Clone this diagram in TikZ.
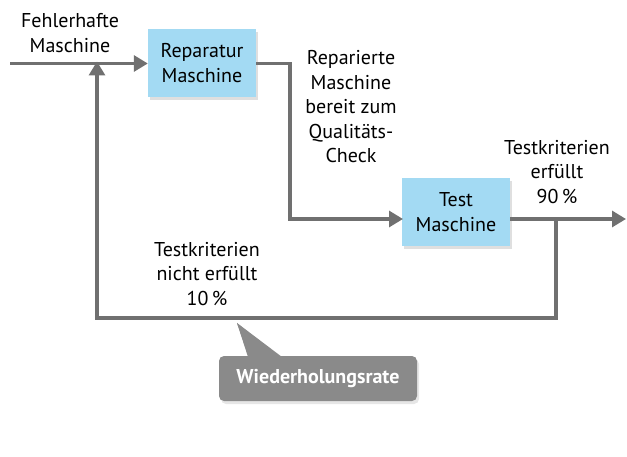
\documentclass[tikz,border=0pt]{standalone}
\usepackage{fontspec}
\setmainfont{PT Sans}
\usetikzlibrary{arrows.meta}
\usetikzlibrary{shadows}

\definecolor{linegray}{HTML}{707070}
\definecolor{boxblue}{HTML}{A3DAF3}
\definecolor{notegray}{HTML}{8A8A8A}

\begin{document}
\begin{tikzpicture}[x=1pt,y=-1pt,
		flow/.style={draw=linegray, line width=3.2pt, -{Triangle[length=14pt,width=16pt]}},
		machine/.style={fill=boxblue, minimum width=108pt, minimum height=68pt, align=center, inner sep=0pt,
			font=\fontsize{20}{25}\selectfont, drop shadow={shadow xshift=2pt, shadow yshift=-3pt, opacity=.25}},
		lbl/.style={align=center, inner sep=0pt, font=\fontsize{20}{24.5}\selectfont}]
					\useasboundingbox (0,0) rectangle (627,457);
					% machines
					\node[machine] (rep) at (202,63) {Reparatur\\Maschine};
					\node[machine] (test) at (456,212.5) {Test\\Maschine};
					% corners of the flow
					\coordinate (in) at (10,63.5);
					\coordinate (join) at (97,63.5);
					\coordinate (turn) at (290,63.5);
					\coordinate (testin) at (402,219);
					\coordinate (testout) at (510,219);
					\coordinate (split) at (556,219);
					\coordinate (out) at (625,219);
					\coordinate (back) at (556,318);
					\draw[flow] (in) -- (rep.west |- in);
					\draw[flow, shorten >=-1pt] (rep.east |- turn) -- (turn) |- (testin);
					\draw[flow, shorten >=-1pt] (testout) -- (out);
					\draw[flow, shorten >=-2pt] (split) -- (back) -| (join);
					% texts
					\node[lbl] (faulty) at (70,33) {Fehlerhafte\\Maschine};
					\node[lbl] (repaired) at (351,107) {Reparierte\\Maschine\\bereit zum\\Qualitäts-\\Check};
					\node[lbl] (pass) at (557,172) {Testkriterien\\erfüllt\\90\,\%};
					\node[lbl] (fail) at (207,274) {Testkriterien\\nicht erfüllt\\10\,\%};
					% note
					\fill[notegray, drop shadow={shadow xshift=2pt, shadow yshift=-3pt, opacity=.2}]
						(237,323) -- (282,357) -- (249,357) -- cycle;
					\node[fill=notegray, rounded corners=5pt, minimum width=198pt, minimum height=45pt,
						text=white, font=\fontsize{20}{24}\selectfont\bfseries,
						drop shadow={shadow xshift=2pt, shadow yshift=-3pt, opacity=.2}] (rate) at (318,378.5) {Wiederholungsrate};
					\fill[notegray] (237,323) -- (282,360) -- (249,360) -- cycle;
				\end{tikzpicture}
\end{document}
